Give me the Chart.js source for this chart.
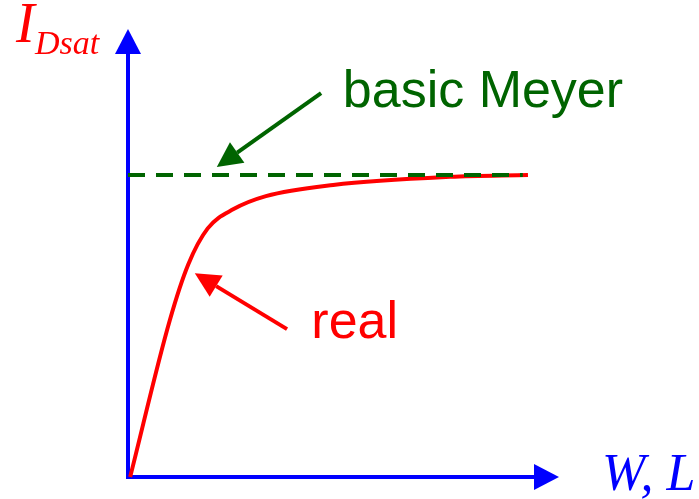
<!DOCTYPE html>
<html>
<head>
<meta charset="utf-8">
<script src="https://cdn.jsdelivr.net/npm/chart.js@4.4.0/dist/chart.umd.min.js"></script>
<style>
  html, body { margin: 0; padding: 0; background: #ffffff; }
  canvas { display: block; }
</style>
</head>
<body>
<canvas id="IdsatChart" width="699" height="499"></canvas>
<script>
// values (arbitrary units, axes run 0..10)
const realX = [0.05, 0.97, 1.40, 1.85, 2.45, 3.20, 4.76, 7.47, 9.28];
const realY = [0.00, 3.50, 4.75, 5.55, 5.98, 6.27, 6.52, 6.70, 6.74];
const meyerX = [0, 9.16];
const meyerY = [6.74, 6.74];

const xLabel = "W, L";
const yLabel = "I";
const yLabelSub = "Dsat";

function toPoints(xs, ys) {
    const pts = [];
    for (let i = 0; i < xs.length; i++) {
        pts.push({ x: xs[i], y: ys[i] });
    }
    return pts;
}

function arrow(ctx, x1, y1, x2, y2, color, width, headLen, headWidth) {
    const ang = Math.atan2(y2 - y1, x2 - x1);
    const bx = x2 - headLen * Math.cos(ang);
    const by = y2 - headLen * Math.sin(ang);
    ctx.save();
    ctx.strokeStyle = color;
    ctx.fillStyle = color;
    ctx.lineWidth = width;
    ctx.beginPath();
    ctx.moveTo(x1, y1);
    ctx.lineTo(bx, by);
    ctx.stroke();
    const nx = -Math.sin(ang) * headWidth / 2;
    const ny = Math.cos(ang) * headWidth / 2;
    ctx.beginPath();
    ctx.moveTo(x2, y2);
    ctx.lineTo(bx + nx, by + ny);
    ctx.lineTo(bx - nx, by - ny);
    ctx.closePath();
    ctx.fill();
    ctx.restore();
}

// blue axes with arrow heads, drawn under the curves
const axesPlugin = {
    id: 'axesPlugin',
    beforeDatasetsDraw(chart) {
        const ctx = chart.ctx;
        const a = chart.chartArea;
        arrow(ctx, a.left, a.bottom + 2, a.left, a.top, '#0000ff', 4, 25, 26);
        arrow(ctx, a.left - 2, a.bottom, a.right, a.bottom, '#0000ff', 4, 25, 26);
    }
};

// annotation arrows and texts, placed in data units
const notes = [
    { text: 'basic Meyer', color: '#006400', tx: 5.03, ty: 8.25, from: [4.48, 8.57], to: [2.06, 6.92] },
    { text: 'real', color: '#ff0000', tx: 4.30, ty: 3.10, from: [3.69, 3.30], to: [1.55, 4.55] }
];

const notesPlugin = {
    id: 'notesPlugin',
    afterDatasetsDraw(chart) {
        const ctx = chart.ctx;
        const xs = chart.scales.x;
        const ys = chart.scales.y;
        notes.forEach(function (n) {
            arrow(ctx,
                xs.getPixelForValue(n.from[0]), ys.getPixelForValue(n.from[1]),
                xs.getPixelForValue(n.to[0]), ys.getPixelForValue(n.to[1]),
                n.color, 4, 25, 25);
            ctx.save();
            ctx.fillStyle = n.color;
            ctx.font = '52px "Liberation Sans", Arial, sans-serif';
            ctx.textBaseline = 'alphabetic';
            ctx.textAlign = 'left';
            ctx.fillText(n.text, xs.getPixelForValue(n.tx) - 2, ys.getPixelForValue(n.ty));
            ctx.restore();
        });

        // axis titles
        ctx.save();
        ctx.textBaseline = 'alphabetic';
        ctx.fillStyle = '#ff0000';
        ctx.font = 'italic 56px "Liberation Serif", "Times New Roman", serif';
        ctx.fillText(yLabel, 16, 42);
        ctx.font = 'italic 34px "Liberation Serif", "Times New Roman", serif';
        ctx.fillText(yLabelSub, 35, 54);
        ctx.fillStyle = '#0000ff';
        ctx.font = 'italic 52px "Liberation Serif", "Times New Roman", serif';
        ctx.fillText(xLabel, 602, 490);
        ctx.restore();
    }
};

var ctx = document.getElementById('IdsatChart');

var IdsatChart = new Chart(ctx, {
    type: 'line',
    data: {
        datasets: [
            {
                label: 'basic Meyer',
                data: toPoints(meyerX, meyerY),
                borderColor: '#006400',
                borderWidth: 4,
                borderDash: [17, 11],
                pointRadius: 0,
                fill: false,
                clip: false
            },
            {
                label: 'real',
                data: toPoints(realX, realY),
                borderColor: '#ff0000',
                borderWidth: 4,
                cubicInterpolationMode: 'monotone',
                pointRadius: 0,
                fill: false,
                clip: false
            }
        ]
    },
    options: {
        responsive: false,
        animation: false,
        layout: { padding: { left: 128, right: 140, top: 29, bottom: 22 } },
        plugins: {
            legend: { display: false },
            tooltip: { enabled: false }
        },
        scales: {
            x: { type: 'linear', min: 0, max: 10, display: false },
            y: { type: 'linear', min: 0, max: 10, display: false }
        }
    },
    plugins: [axesPlugin, notesPlugin]
});
</script>
</body>
</html>
